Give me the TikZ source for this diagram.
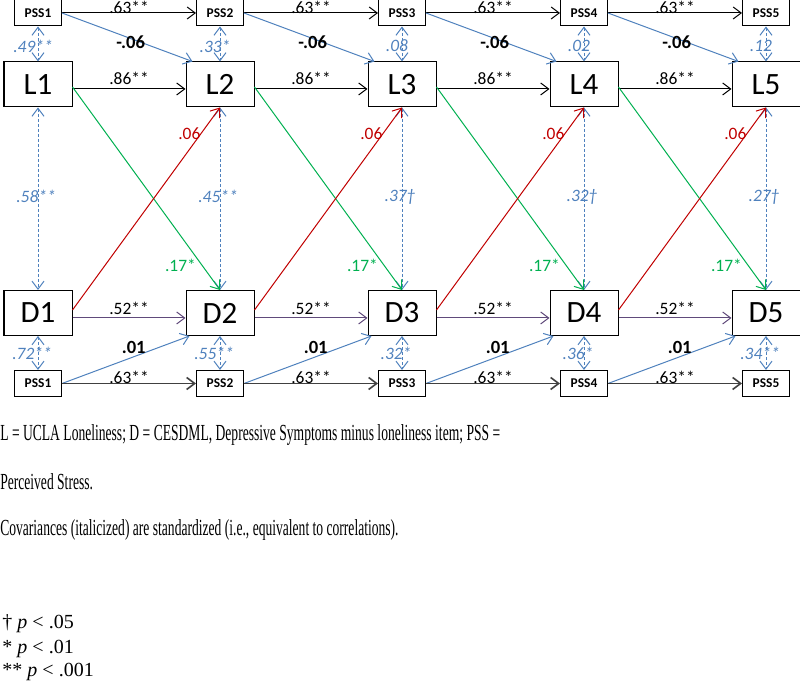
\documentclass[tikz,border=0pt]{standalone}
\usepackage{fontspec}
\setmainfont{Liberation Serif}
\newfontfamily\calib{Carlito}
\usetikzlibrary{arrows.meta}
\tikzset{>={Straight Barb[length=4pt,width=6pt]}}
\definecolor{b1}{HTML}{4F81BD}
\definecolor{g1}{HTML}{00B050}
\definecolor{r1}{HTML}{C00000}
\definecolor{p1}{HTML}{604A7B}
\definecolor{k1}{HTML}{404040}
\newcommand{\fs}[1]{\fontsize{#1}{1.2\dimexpr#1pt\relax}\selectfont}
\tikzstyle{var}=[draw,inner sep=0pt,minimum width=34pt,minimum height=22.5pt,font=\calib\fs{15.5}]
\tikzstyle{pss}=[draw,inner sep=0pt,minimum width=23.5pt,minimum height=13pt,font=\calib\bfseries\fs{6.7}]
\tikzstyle{lab}=[inner sep=0pt,font=\calib\fs{8.7}]
\tikzstyle{bold lab}=[inner sep=0pt,font=\calib\bfseries\fs{9.3}]
\tikzstyle{cov lab}=[inner sep=0pt,b1,font=\calib\itshape\fs{8.7}]
\tikzstyle{cov}=[<->,b1,dash pattern=on 1.5pt off 1pt]
\tikzstyle{note}=[anchor=west,inner sep=0pt,font=\fs{11.5},transform shape,xscale=.59]
\tikzstyle{legend}=[anchor=west,inner sep=0pt,font=\fs{10}]

\begin{document}
\begin{tikzpicture}[x=0.5pt,y=-0.5pt,line width=0.5pt]
  \useasboundingbox (0,0) rectangle (800,684);
  % columns: variables and covariances
  \foreach \i/\cpl/\cld/\cdb in {1/.49**/.58**/.72**,2/.33*/.45**/.55**,3/.08/.37†/.32*,4/.02/.32†/.36*,5/.12/.27†/.34**}{
    \pgfmathsetmacro\cx{38+182*(\i-1)}
    \node[pss] (PT\i) at (\cx,13) {PSS\i};
    \node[var] (L\i) at (\cx,84.5) {L\i};
    \node[var] (D\i) at (\cx,313) {D\i};
    \node[pss] (PB\i) at (\cx,383.5) {PSS\i};
    \draw[cov] (PT\i) -- node[cov lab,xshift=-2.5pt,yshift=-1pt]{\cpl} (L\i);
    \draw[cov] (L\i) -- node[cov lab,xshift=-1pt,yshift=1pt]{\cld} (D\i);
    \draw[cov] (D\i) -- node[cov lab,xshift=-3pt]{\cdb} (PB\i);
  }
  % paths between waves
  \foreach \i in {1,...,4}{
    \pgfmathtruncatemacro\j{\i+1}
    \draw[->] (PT\i.east) -- node[lab,yshift=3pt]{.63**} (PT\j.west);
    \draw[->,b1] (PT\i.east) -- node[bold lab,black,xshift=1.75pt,yshift=-2.5pt]{-.06} ([xshift=3.5pt]L\j.north west);
    \draw[->] ([yshift=-2.25pt]L\i.east) -- node[lab,yshift=5.5pt]{.86**} ([yshift=-2.25pt]L\j.west);
    \draw[->,g1] ([yshift=-1.25pt]L\i.east) -- node[lab,g1,pos=.88,left=3pt]{.17*} (D\j.north);
    \draw[->,r1] ([yshift=1.5pt]D\i.east) -- node[lab,r1,pos=.87,left=0pt]{.06} (L\j.south);
    \draw[->,p1] ([yshift=-2.5pt]D\i.east) -- node[lab,black,yshift=5pt]{.52**} ([yshift=-2.5pt]D\j.west);
    \draw[->,b1] (PB\i.east) -- node[bold lab,black,xshift=4pt,yshift=6pt]{.01} ([xshift=2pt]D\j.south west);
    \draw[->,k1,line width=.8pt] (PB\i.east) -- node[lab,black,yshift=3pt]{.63**} (PB\j.west);
  }
  % notes
  \node[note] (N1) at (0,435) {\hbox to 423.7pt{L = UCLA Loneliness; D = CESDML, Depressive Symptoms minus loneliness item; PSS =}};
  \node[note] (N2) at (0,482) {Perceived Stress.};
  \node[note] (N3) at (0,530) {Covariances (italicized) are standardized (i.e., equivalent to correlations).};
  \node[legend] (K1) at (2,624) {† \textit{p} < .05};
  \node[legend] (K2) at (2,649) {* \textit{p} < .01};
  \node[legend] (K3) at (2,672) {** \textit{p} < .001};
\end{tikzpicture}
\end{document}
